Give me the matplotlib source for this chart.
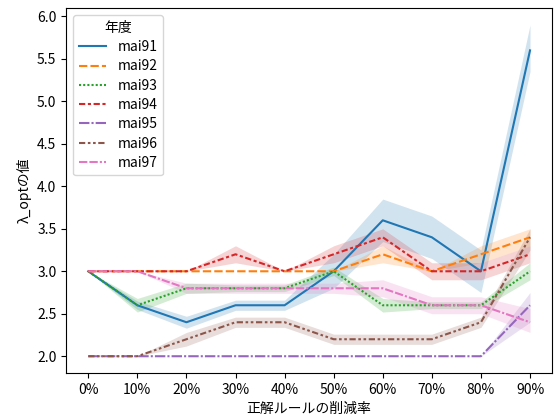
import matplotlib
matplotlib.use("Agg")
import matplotlib.pyplot as plt

plt.rcParams['font.family'] = ['Noto Sans CJK JP', 'DejaVu Sans']

# 正解ルールの削減率
rates = ['0%', '10%', '20%', '30%', '40%', '50%', '60%', '70%', '80%', '90%']

# 各年度の λ_opt 平均値と信頼区間 (下限, 上限)
mai91 = [3.0, 2.6, 2.4, 2.6, 2.6, 3.0, 3.6, 3.4, 3.0, 5.6]
mai91_lo = [3.0, 2.55, 2.33, 2.54, 2.54, 2.8, 3.35, 3.15, 2.75, 5.35]
mai91_hi = [3.0, 2.65, 2.47, 2.66, 2.66, 3.2, 3.85, 3.65, 3.25, 5.9]

mai92 = [3.0, 3.0, 3.0, 3.0, 3.0, 3.0, 3.2, 3.0, 3.2, 3.4]
mai92_lo = [3.0, 3.0, 3.0, 3.0, 3.0, 3.0, 3.1, 3.0, 3.1, 3.3]
mai92_hi = [3.0, 3.0, 3.0, 3.0, 3.0, 3.0, 3.3, 3.0, 3.3, 3.5]

mai93 = [3.0, 2.6, 2.8, 2.8, 2.8, 3.0, 2.6, 2.6, 2.6, 3.0]
mai93_lo = [3.0, 2.52, 2.74, 2.76, 2.76, 2.95, 2.52, 2.56, 2.56, 2.9]
mai93_hi = [3.0, 2.68, 2.86, 2.84, 2.84, 3.05, 2.68, 2.64, 2.64, 3.1]

mai94 = [3.0, 3.0, 3.0, 3.2, 3.0, 3.2, 3.4, 3.0, 3.0, 3.2]
mai94_lo = [3.0, 3.0, 3.0, 3.1, 3.0, 3.1, 3.3, 2.9, 2.9, 3.1]
mai94_hi = [3.0, 3.0, 3.0, 3.3, 3.0, 3.3, 3.5, 3.1, 3.1, 3.3]

mai95 = [2.0, 2.0, 2.0, 2.0, 2.0, 2.0, 2.0, 2.0, 2.0, 2.6]
mai95_lo = [2.0, 2.0, 2.0, 2.0, 2.0, 2.0, 2.0, 2.0, 2.0, 2.4]
mai95_hi = [2.0, 2.0, 2.0, 2.0, 2.0, 2.0, 2.0, 2.0, 2.0, 2.75]

mai96 = [2.0, 2.0, 2.2, 2.4, 2.4, 2.2, 2.2, 2.2, 2.4, 3.4]
mai96_lo = [2.0, 2.0, 2.12, 2.34, 2.34, 2.14, 2.14, 2.14, 2.34, 3.25]
mai96_hi = [2.0, 2.0, 2.28, 2.46, 2.46, 2.26, 2.26, 2.26, 2.46, 3.5]

mai97 = [3.0, 3.0, 2.8, 2.8, 2.8, 2.8, 2.8, 2.6, 2.6, 2.4]
mai97_lo = [3.0, 3.0, 2.74, 2.74, 2.74, 2.74, 2.7, 2.5, 2.5, 2.28]
mai97_hi = [3.0, 3.0, 2.86, 2.86, 2.86, 2.86, 2.9, 2.7, 2.7, 2.56]

years = ['mai91', 'mai92', 'mai93', 'mai94', 'mai95', 'mai96', 'mai97']
means = [mai91, mai92, mai93, mai94, mai95, mai96, mai97]
lows = [mai91_lo, mai92_lo, mai93_lo, mai94_lo, mai95_lo, mai96_lo, mai97_lo]
highs = [mai91_hi, mai92_hi, mai93_hi, mai94_hi, mai95_hi, mai96_hi, mai97_hi]

colors = ['#1f77b4', '#ff7f0e', '#2ca02c', '#d62728', '#9467bd', '#8c564b', '#e377c2']
dashes = [(None, None), (4, 1.5), (1, 1), (3, 1.25, 1.5, 1.25), (5, 1, 1, 1),
          (3, 1.25, 1.25, 1.25, 1.25, 1.25), (4, 1, 4, 1, 1, 1)]

fig, ax = plt.subplots(figsize=(5.56, 4.17), dpi=100)
fig.subplots_adjust(left=0.119, right=0.993, top=0.98, bottom=0.106)

x = list(range(len(rates)))
for name, m, lo, hi, c, d in zip(years, means, lows, highs, colors, dashes):
    line, = ax.plot(x, m, color=c, lw=1.5, label=name)
    if d[0] is not None:
        line.set_dashes(d)
    ax.fill_between(x, lo, hi, color=c, alpha=0.2, linewidth=0)

ax.set_xticks(x)
ax.set_xticklabels(rates)
ax.set_xlabel('正解ルールの削減率')
ax.set_ylabel('λ_optの値')
ax.legend(title='年度', loc='upper left', labelspacing=0.38)

fig.savefig('out.png', dpi=100)
